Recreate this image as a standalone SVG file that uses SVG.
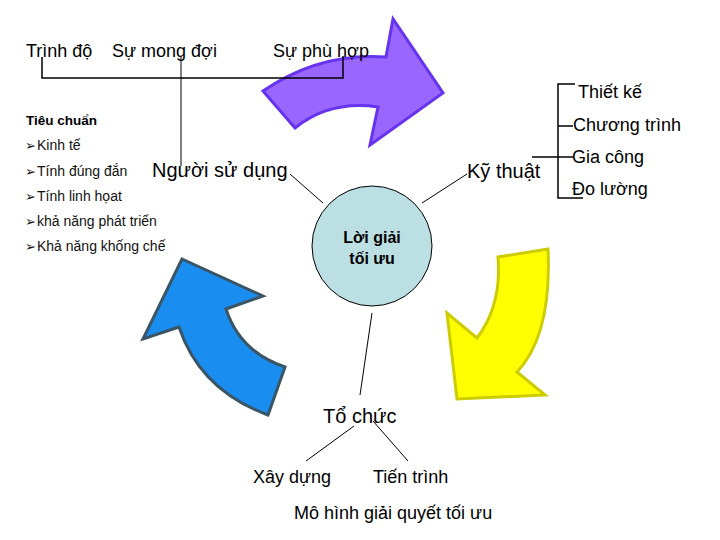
<svg xmlns="http://www.w3.org/2000/svg" width="720" height="540" viewBox="0 0 720 540">
<style>
  text { font-family: "Liberation Sans", Arial, sans-serif; fill: #000; }
  .t18 { font-size: 18px; }
  .t20 { font-size: 20px; }
  .list { font-size: 14px; fill: #111; }
  .bul { font-family: "DejaVu Sans", sans-serif; font-size: 13px; }
  .bold { font-weight: bold; }
  .ln { fill: none; stroke: #000; stroke-width: 1; }
  .lnb { fill: none; stroke: #000; stroke-width: 1.5; }
</style>
<rect width="720" height="540" fill="#fff"/>

<g id="arrow-purple">
  <path d="M263,91 Q320,52 386,57 L393,19 L443,93 L370,145 L378,107 Q330,100 295,128 Z" fill="#9966ff" stroke="#6633ee" stroke-width="3" stroke-linejoin="miter"/>
</g>
<g id="arrow-yellow">
  <path d="M498,257 L548,249 Q552,335 517,372 L545,395 L457,399 L447,313 L477,338 Q502,305 498,257 Z" fill="#ffff00" stroke="#cccc00" stroke-width="3"/>
</g>
<g id="arrow-blue">
  <path d="M182,259 L263,296 L226,309 Q240,352 285,367 L268,415 Q200,390 179,327 L143,339 Z" fill="#1a8ef0" stroke="#3a5566" stroke-width="3"/>
</g>

<g id="connectors">
  <path class="lnb" d="M42,57 V78 H343 V56"/>
  <path class="ln" d="M181,57 V166"/>
  <path class="ln" d="M290,174 L323,203"/>
  <path class="ln" d="M467,174 L422,203"/>
  <path class="ln" d="M372,313 L360,395"/>
  <path class="ln" d="M354,426 L306,461"/>
  <path class="ln" d="M373,421 L408,461"/>
  <path class="lnb" d="M575,84 H558 V198 H583"/>
  <path class="lnb" d="M558,126 H573"/>
  <path class="lnb" d="M532,157 H573"/>
</g>

<g id="node-solution">
  <circle cx="372" cy="246" r="60" fill="#bcdfe3" stroke="#000" stroke-width="1"/>
  <text x="372" y="243" text-anchor="middle" font-size="16" class="bold">Lời giải</text>
  <text x="372" y="264" text-anchor="middle" font-size="16" class="bold">tối ưu</text>
</g>

<g id="node-trinh-do"><text x="26" y="57" class="t18">Trình độ</text></g>
<g id="node-su-mong-doi"><text x="112" y="57" class="t18">Sự mong đợi</text></g>
<g id="node-su-phu-hop"><text x="273" y="57" class="t18">Sự phù hợp</text></g>

<g id="node-nguoi-su-dung"><text x="152" y="177" class="t20">Người sử dụng</text></g>
<g id="node-ky-thuat"><text x="467" y="178" class="t20">Kỹ thuật</text></g>

<g id="node-thiet-ke"><text x="578" y="98" class="t18">Thiết kế</text></g>
<g id="node-chuong-trinh"><text x="573" y="131" class="t18">Chương trình</text></g>
<g id="node-gia-cong"><text x="572" y="163" class="t18">Gia công</text></g>
<g id="node-do-luong"><text x="572" y="195" class="t18">Đo lường</text></g>

<g id="node-tieu-chuan">
  <text x="26" y="125" font-size="13.5" class="bold">Tiêu chuẩn</text>
  <text class="list" y="150"><tspan class="bul" x="25">➢</tspan><tspan x="37">Kinh tế</tspan></text>
  <text class="list" y="176"><tspan class="bul" x="25">➢</tspan><tspan x="37">Tính đúng đắn</tspan></text>
  <text class="list" y="201"><tspan class="bul" x="25">➢</tspan><tspan x="37">Tính linh họat</tspan></text>
  <text class="list" y="226"><tspan class="bul" x="25">➢</tspan><tspan x="37">khả năng phát triển</tspan></text>
  <text class="list" y="251"><tspan class="bul" x="25">➢</tspan><tspan x="37">Khả năng khống chế</tspan></text>
</g>

<g id="node-to-chuc"><text x="323" y="423" class="t20">Tổ chức</text></g>
<g id="node-xay-dung"><text x="253" y="483" class="t18">Xây dựng</text></g>
<g id="node-tien-trinh"><text x="373" y="483" class="t18">Tiến trình</text></g>
<g id="node-title"><text x="294" y="519" class="t18">Mô hình giải quyết tối ưu</text></g>
</svg>
